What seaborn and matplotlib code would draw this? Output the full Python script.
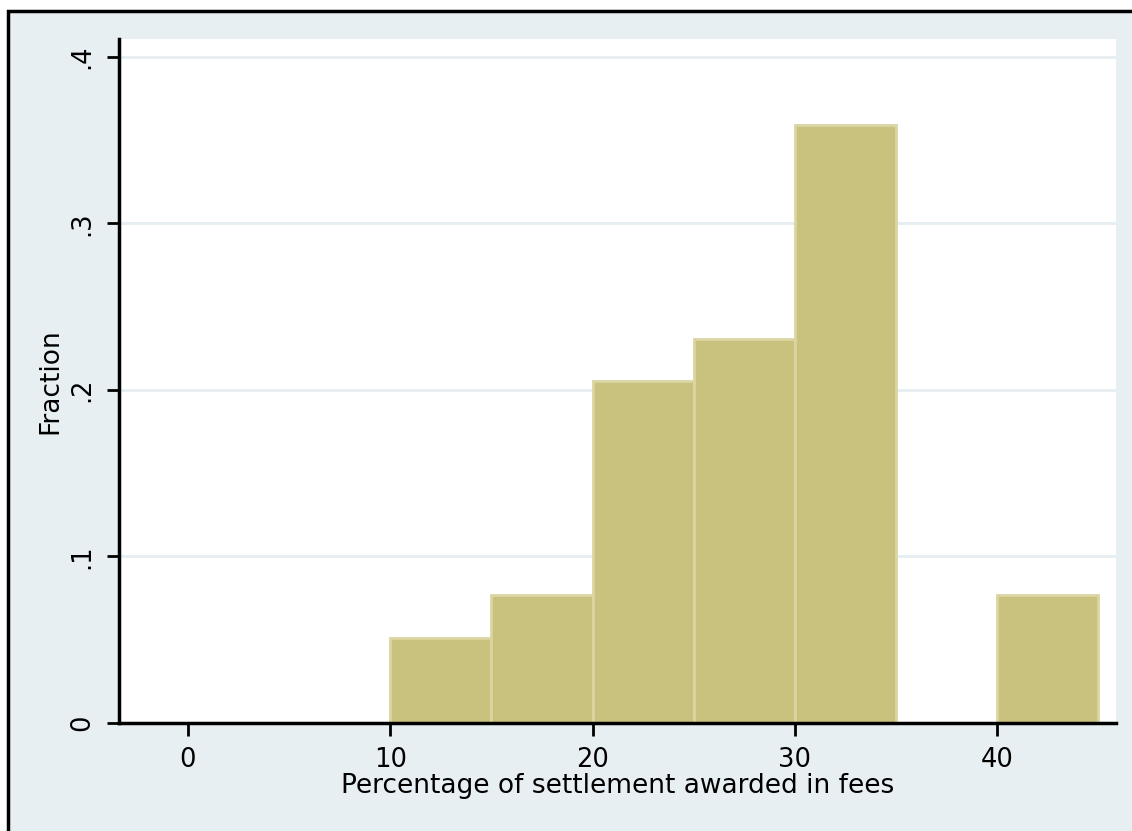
import numpy as np
import matplotlib
matplotlib.use("Agg")
import matplotlib.pyplot as plt
import matplotlib.patches as mpatches
import seaborn as sns

# histogram of fee percentages (fraction of 39 cases per 5-point bin)
bin_edges = [10, 15, 20, 25, 30, 35, 40, 45]
fractions = [2/39, 3/39, 8/39, 9/39, 14/39, 0.0, 3/39]
x_ticks = [0, 10, 20, 30, 40]
y_ticks = [0, 0.1, 0.2, 0.3, 0.4]
y_tick_labels = ["0", ".1", ".2", ".3", ".4"]

bin_mids = [(a + b) / 2 for a, b in zip(bin_edges[:-1], bin_edges[1:])]

sns.set_style("white")
plt.rcParams["font.family"] = ["DejaVu Sans"]
plt.rcParams["text.color"] = "black"
plt.rcParams["axes.labelcolor"] = "black"
plt.rcParams["xtick.color"] = "black"
plt.rcParams["ytick.color"] = "black"

fig = plt.figure(figsize=(11.32, 8.31), dpi=100, facecolor="white")

# stata-like graph region, cropped at right/bottom
bg = mpatches.Rectangle((8 / 1132, -0.2), 1.5, (831 - 11) / 831 + 0.2,
                        transform=fig.transFigure, facecolor="#e8eff2",
                        edgecolor="black", linewidth=2.5, zorder=-10)
fig.patches.append(bg)

ax = fig.add_axes([119 / 1132, 108 / 831, (1116 - 119) / 1132, (723 - 39) / 831])
ax.set_facecolor("white")

sns.histplot(x=bin_mids, weights=fractions, bins=bin_edges, stat="count",
             color="#c9c17e", edgecolor="#dbd5a2", linewidth=2, alpha=1,
             ax=ax, zorder=3)

ax.set_xlim(-3.4, 45.87)
ax.set_ylim(0, 0.4108)
ax.set_yticks(y_ticks)
ax.set_yticklabels(y_tick_labels, rotation=90, va="center")
ax.set_xticks(x_ticks)
ax.grid(axis="y", color="#e6eef1", linewidth=2, zorder=0)
ax.set_axisbelow(True)

for side in ["top", "right"]:
    ax.spines[side].set_visible(False)
for side in ["left", "bottom"]:
    ax.spines[side].set_linewidth(2.5)
    ax.spines[side].set_color("black")
    ax.spines[side].set_zorder(5)

ax.tick_params(axis="both", which="major", direction="out", length=9, width=2,
               color="black", labelcolor="black", labelsize=18.5, pad=8,
               left=True, bottom=True)
ax.set_xlabel("Percentage of settlement awarded in fees", fontsize=19, labelpad=0)
ax.set_ylabel("Fraction", fontsize=19, labelpad=4)

fig.savefig("out.png", dpi=100, facecolor=fig.get_facecolor())
